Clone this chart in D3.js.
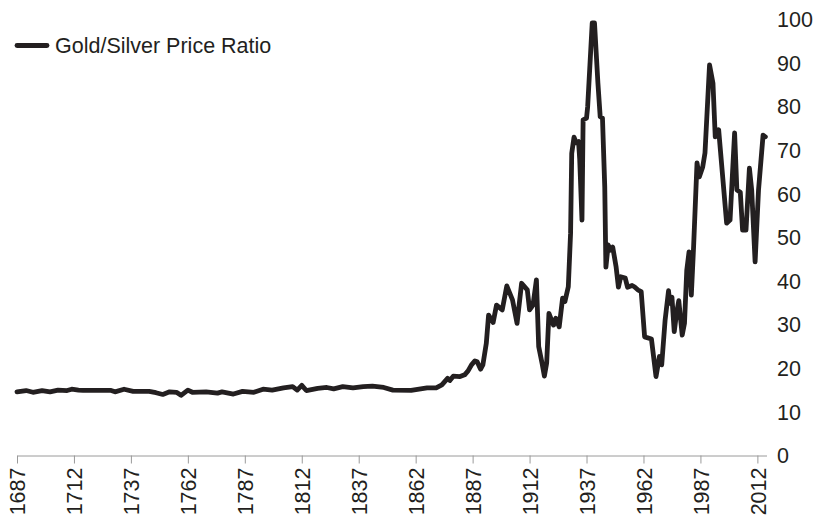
<!DOCTYPE html>
<html>
<head>
<meta charset="utf-8">
<script src="https://cdn.jsdelivr.net/npm/d3@7"></script>
<style>
  body { margin: 0; background: #fff; }
  svg { display: block; }
  text { font-family: "Liberation Sans", Arial, Helvetica, sans-serif; fill: #231f20; }
</style>
</head>
<body>
<div id="chart"></div>
<script>
// values
var years = [1687,1691,1694,1698,1701.5,1705,1709,1711,1714,1716,1728,1730,1734,1738,1745,1748,1751,1754,1757,1759,
  1762,1764,1770,1775,1777,1782,1786,1791,1795,1799,1804,1808,1810,1812,1814,1819,1823,1826,1830,1834.5,
  1839,1843,1848,1852,1860,1867,1871,1873.5,1876,1877,1878.5,1881.5,1883.5,1885,1886.5,1888,1889,1890.5,1891.5,1893,
  1894,1896,1897.5,1900,1902,1904.5,1906.5,1908.5,1911,1912,1913.5,1915,1916,1917.5,1918.5,1919.5,1920.5,1922.5,1923.5,1925,
  1926.5,1927.5,1929,1930,1930.5,1931.5,1932.5,1933.5,1934,1935,1935.5,1937,1937.5,1939.5,1940.5,1942,1943,1944,
  1945,1945.5,1946.5,1947.5,1948.5,1950,1951,1952,1954,1955,1957,1958,1959.5,1961,1962.5,1965.5,1967.5,1969,
  1970,1971.5,1973,1973.5,1974.5,1975.5,1976.5,1977.5,1979,1980,1981,1982,1983,1984,1985.5,1986.5,1988,1989,
  1991,1992.5,1993.5,1994.5,1995,1998.5,2000,2002,2003,2004.5,2005.5,2007,2008.5,2009.5,2011,2012.5,2014.5,2015.5];
var ratio = [14.6,14.9,14.5,14.9,14.6,15.0,14.9,15.2,15.0,14.95,14.95,14.6,15.2,14.7,14.7,14.4,14.0,14.6,14.5,13.8,
  15.0,14.5,14.6,14.3,14.6,14.1,14.7,14.5,15.2,15.0,15.5,15.8,15.0,16.1,14.9,15.4,15.6,15.3,15.8,15.5,
  15.8,15.9,15.6,15.0,14.95,15.5,15.5,16.2,17.7,17.2,18.2,18.1,18.5,19.4,20.8,21.7,21.5,19.8,20.8,25.7,
  32.2,30.5,34.5,33.4,38.9,35.7,30.3,39.5,38.0,33.4,34.5,40.3,25.0,21.1,18.2,21.2,32.6,29.9,31.5,29.5,
  36.1,35.3,38.7,51,69.3,73,71.7,72,68,54,77,77.4,80,99.2,99.2,85.4,77.7,77.4,
  61.6,43.2,48.3,47.1,47.8,43.2,38.6,41,40.7,38.6,39,38.7,38,37.6,27.2,26.7,18.1,22.7,
  20.8,31.1,37.8,34.9,36.3,28.4,32.6,35.5,27.6,30.3,42.5,46.7,36.8,47.9,67.1,63.9,66.2,69.4,
  89.6,85.4,73.1,74.2,74.7,53.3,54,74,60.9,60.4,51.7,51.7,65.9,60.9,44.4,60.9,73.5,73.1];
var xTicks = [1687,1712,1737,1762,1787,1812,1837,1862,1887,1912,1937,1962,1987,2012];
var yTicks = [0,10,20,30,40,50,60,70,80,90,100];
var seriesName = "Gold/Silver Price Ratio";

var width = 814, height = 519;
var ink = "#231f20";
var fontSize = 21.5;

var svg = d3.select("#chart").append("svg")
    .attr("width", width)
    .attr("height", height);

var x = d3.scaleLinear().domain([1687, 2016]).range([17, 766.5]);
var y = d3.scaleLinear().domain([0, 100]).range([455.5, 19.5]);

// x axis along the bottom, labels turned upright
var xAxis = svg.append("g")
    .attr("transform", "translate(0," + y(0) + ")")
    .call(d3.axisBottom(x).tickValues(xTicks).tickFormat(d3.format("d")).tickSize(8).tickSizeOuter(0));
xAxis.select(".domain").attr("stroke", "#9a9a9a");
xAxis.selectAll(".tick line").attr("stroke", "#9a9a9a");
xAxis.selectAll(".tick text")
    .attr("font-size", fontSize)
    .attr("fill", ink)
    .attr("text-anchor", "end")
    .attr("transform", "translate(0,12) rotate(-90)")
    .attr("x", 0)
    .attr("y", 0)
    .attr("dy", "0.36em");

// y labels only, on the right
svg.append("g").selectAll("text")
    .data(yTicks).enter()
    .append("text")
    .attr("x", 777)
    .attr("y", function(d) { return y(d); })
    .attr("dy", "0.36em")
    .attr("font-size", fontSize)
    .text(function(d) { return d; });

var pts = years.map(function(d, i) { return [d, ratio[i]]; });
var line = d3.line()
    .x(function(d) { return x(d[0]); })
    .y(function(d) { return y(d[1]); });

svg.append("path")
    .datum(pts)
    .attr("d", line)
    .attr("fill", "none")
    .attr("stroke", ink)
    .attr("stroke-width", 4.8)
    .attr("stroke-linejoin", "round")
    .attr("stroke-linecap", "round");

// legend
var legend = svg.append("g");
legend.append("line")
    .attr("x1", 17).attr("x2", 47)
    .attr("y1", 45.5).attr("y2", 45.5)
    .attr("stroke", ink)
    .attr("stroke-width", 4.8)
    .attr("stroke-linecap", "round");
legend.append("text")
    .attr("x", 55)
    .attr("y", 45.5)
    .attr("dy", "0.36em")
    .attr("font-size", fontSize)
    .text(seriesName);
</script>
</body>
</html>
